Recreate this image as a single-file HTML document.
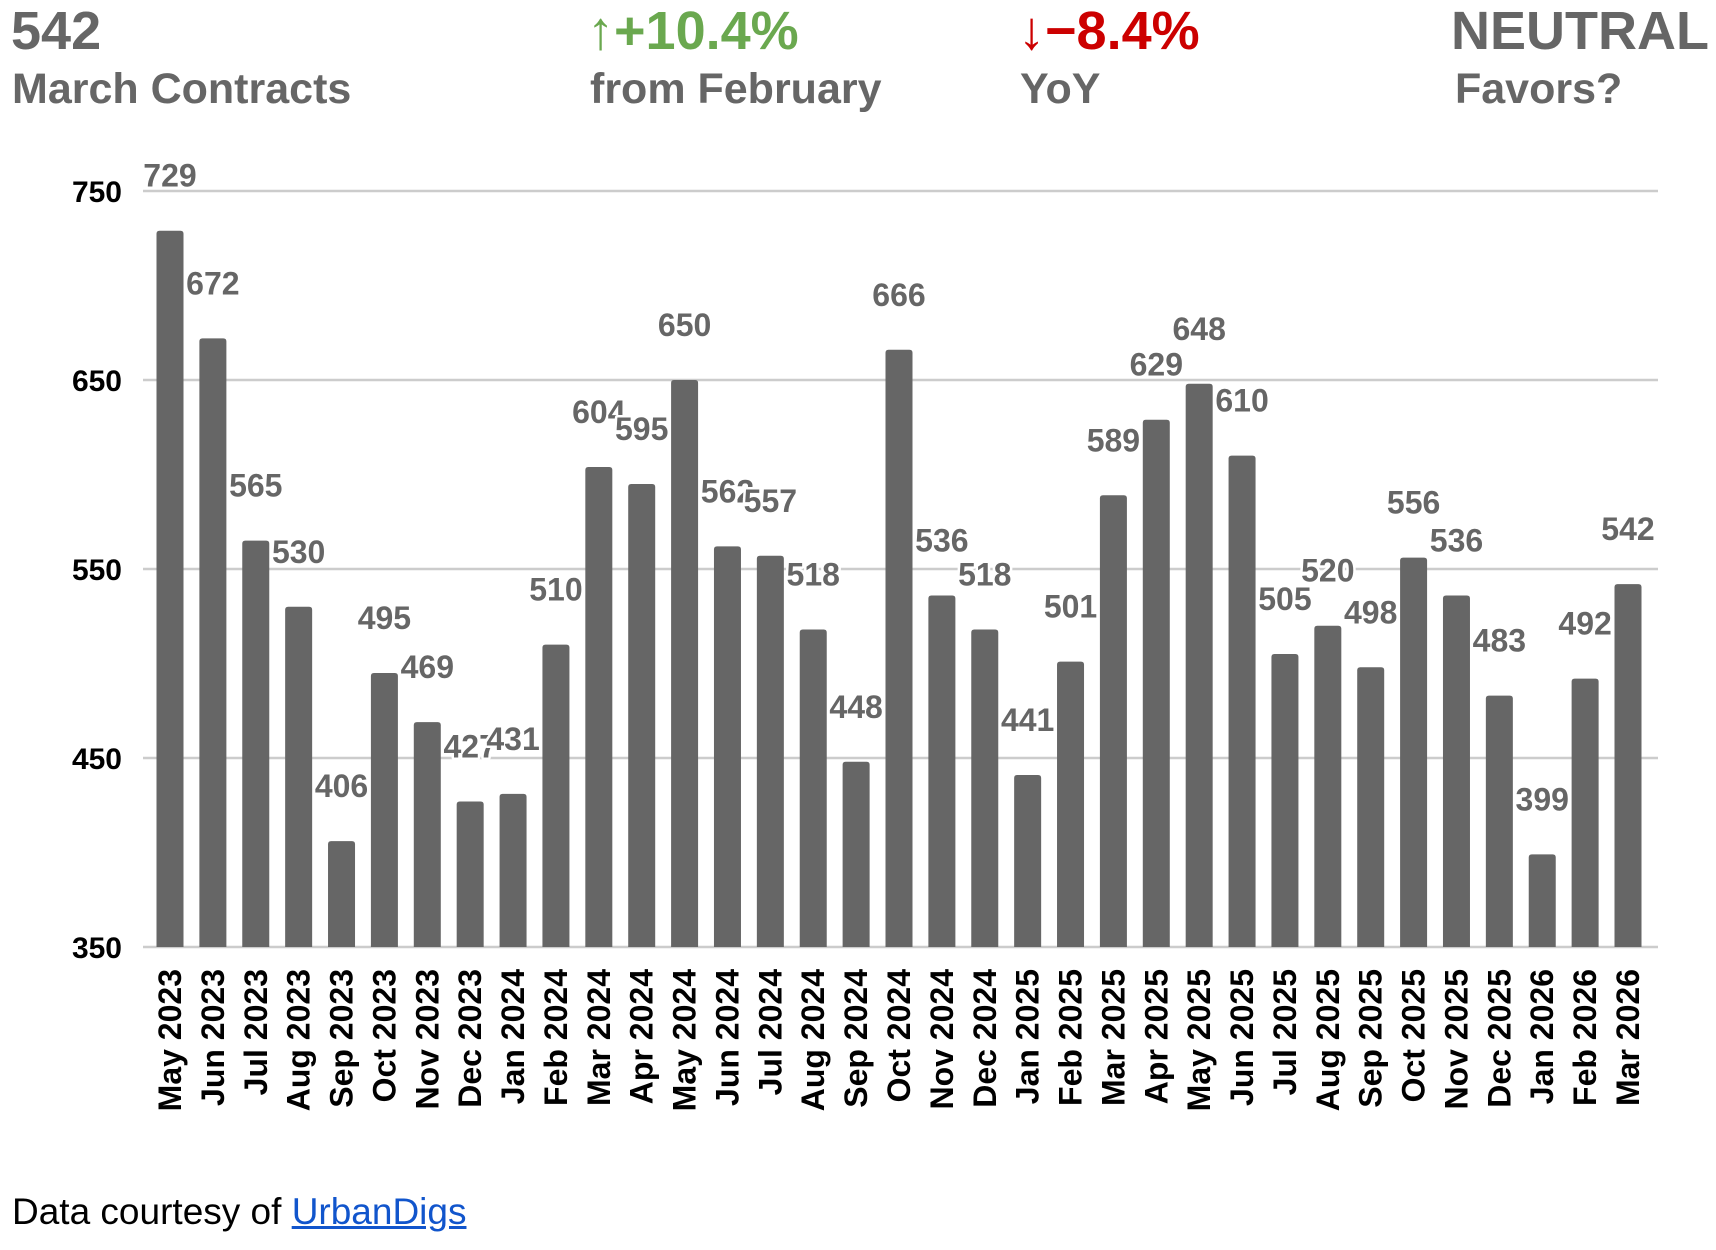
<!DOCTYPE html>
<html><head><meta charset="utf-8"><style>
html,body{margin:0;padding:0;background:#fff;width:1716px;height:1250px;overflow:hidden;font-family:"Liberation Sans",sans-serif}
.hd{position:absolute;font-weight:bold;white-space:nowrap;margin:0}
.big{font-size:54px;line-height:54px}
.sub{font-size:43px;line-height:44px;color:#666}
#foot{position:absolute;left:12px;top:1191px;font-size:37px;color:#000}
#foot a{color:#1155cc;text-decoration:underline}
</style></head><body>
<div class="hd big" style="left:11px;top:4px;color:#666">542</div>
<div class="hd sub" style="left:12px;top:67px">March Contracts</div>
<div class="hd big" style="left:587px;top:4px;color:#6aa84f">↑+10.4%</div>
<div class="hd sub" style="left:590px;top:67px">from February</div>
<div class="hd big" style="left:1018px;top:4px;color:#cc0000">↓−8.4%</div>
<div class="hd sub" style="left:1020px;top:67px">YoY</div>
<div class="hd big" style="left:1451px;top:4px;color:#666">NEUTRAL</div>
<div class="hd sub" style="left:1455px;top:67px">Favors?</div>
<svg id="chart" width="1716" height="1250" style="position:absolute;left:0;top:0" xmlns="http://www.w3.org/2000/svg"></svg>
<div id="foot">Data courtesy of <a href="#">UrbanDigs</a></div>
<script>
const categories = ["May 2023","Jun 2023","Jul 2023","Aug 2023","Sep 2023","Oct 2023","Nov 2023","Dec 2023","Jan 2024","Feb 2024","Mar 2024","Apr 2024","May 2024","Jun 2024","Jul 2024","Aug 2024","Sep 2024","Oct 2024","Nov 2024","Dec 2024","Jan 2025","Feb 2025","Mar 2025","Apr 2025","May 2025","Jun 2025","Jul 2025","Aug 2025","Sep 2025","Oct 2025","Nov 2025","Dec 2025","Jan 2026","Feb 2026","Mar 2026"];
const values = [729,672,565,530,406,495,469,427,431,510,604,595,650,562,557,518,448,666,536,518,441,501,589,629,648,610,505,520,498,556,536,483,399,492,542];
const yTicks = [350,450,550,650,750];

const svg = document.getElementById('chart');
const NS = 'http://www.w3.org/2000/svg';
const yMin = 350, yMax = 750, yBottom = 947, yTop = 191;
const xLeft = 143, xRight = 1658, firstCenter = 170, lastCenter = 1628, barW = 27;
function y(v){ return yBottom - (v - yMin) / (yMax - yMin) * (yBottom - yTop); }
function x(i){ return firstCenter + i * (lastCenter - firstCenter) / (categories.length - 1); }
function mk(tag, attrs){ const e = document.createElementNS(NS, tag); for (const k in attrs) e.setAttribute(k, attrs[k]); svg.appendChild(e); return e; }

yTicks.forEach(t => {
  const g = mk('line', {x1:xLeft, x2:xRight, y1:y(t), y2:y(t), stroke:'#cccccc', 'stroke-width':2.5});
  
  
  const l = mk('text', {x:122, y:y(t) + 11, 'text-anchor':'end', 'font-size':30, 'font-weight':'bold', fill:'#000', 'font-family':'Liberation Sans, sans-serif'});
  l.textContent = t;
  
  
});

values.forEach((v, i) => {
  const cx = x(i), top = y(v);
  const b = mk('path', {d:`M${cx-barW/2},${yBottom} V${top+3} Q${cx-barW/2},${top} ${cx-barW/2+3},${top} H${cx+barW/2-3} Q${cx+barW/2},${top} ${cx+barW/2},${top+3} V${yBottom} Z`, fill:'#666666'});
  
  
});
values.forEach((v, i) => {
  const cx = x(i), top = y(v);
  const t = mk('text', {x:cx, y:top - 44, 'text-anchor':'middle', 'font-size':32, 'font-weight':'bold', fill:'#666666', stroke:'#ffffff', 'stroke-width':5, 'paint-order':'stroke', 'stroke-linejoin':'round', 'font-family':'Liberation Sans, sans-serif'});
  t.textContent = v;
  
  
});
categories.forEach((c, i) => {
  const cx = x(i) + 11;
  const t = mk('text', {x:0, y:0, 'text-anchor':'end', 'font-size':32, 'font-weight':'bold', fill:'#000', transform:`translate(${cx},969) rotate(-90)`, 'font-family':'Liberation Sans, sans-serif'});
  t.textContent = c;
  
  
});
</script>
</body></html>
